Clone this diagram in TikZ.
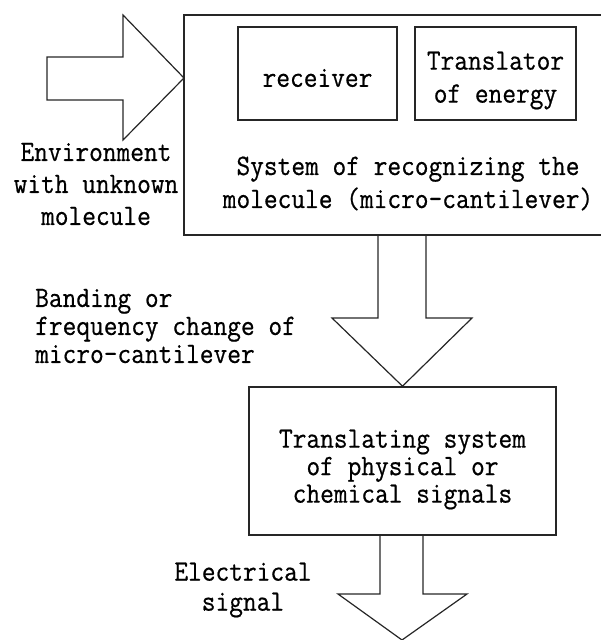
\documentclass[tikz,border=0pt]{standalone}
\usepackage{fontspec}
\setmonofont{Latin Modern Mono}[FakeBold=0.6,FakeStretch=0.9]
\usepackage{tikz}

\begin{document}
\begin{tikzpicture}
  [x=1pt,y=-1pt,
   every node/.style={font=\ttfamily\fontsize{29.6}{32}\selectfont,inner sep=0pt,align=center},
   box/.style={draw=black!85,line width=1.6pt,rectangle},
   blockarrow/.style={draw=black!85,line width=1.2pt,line join=miter}]
  \useasboundingbox (0,0) rectangle (601,640);
  \clip (0,0) rectangle (601,640);

  \node[box,minimum width=426,minimum height=220] (sys) at (397,125) {};
  \node[box,minimum width=159,minimum height=93] (recv) at (317.5,73.5) {};
  \node[box,minimum width=161,minimum height=93] (tren) at (495.5,73.5) {};
  \node[box,minimum width=307,minimum height=148] (trans) at (402.5,461) {};

  \node (recvtxt) at ([yshift=-4.5pt]recv.center) {receiver};
  \node[font=\ttfamily\fontsize{29.6}{33}\selectfont] (trentxt) at ([yshift=-7pt]tren.center) {Translator\\of energy};
  \node[font=\ttfamily\fontsize{29.6}{33}\selectfont] (systxt) at (408,183.5) {System of recognizing the\\molecule (micro-cantilever)};
  \node[font=\ttfamily\fontsize{29.6}{27.5}\selectfont] (transtxt) at ([yshift=-8.5pt]trans.center) {Translating system\\of physical or\\chemical signals};

  \node (env) at (96,184) {Environment\\with unknown\\molecule};
  \node[anchor=west,align=left,font=\ttfamily\fontsize{29.6}{28}\selectfont] (band) at (35,326) {Banding or\\frequency change of\\micro-cantilever};
  \node[font=\ttfamily\fontsize{29.6}{30}\selectfont] (elec) at (243,590) {Electrical\\signal};

  \coordinate (envtip) at (184,78);
  \coordinate (out) at (402,640);

  % block arrows
  \draw[blockarrow] (47,57) -- (123,57) -- (123,15) -- (envtip) -- (123,140) -- (123,100) -- (47,100) -- cycle;
  \draw[blockarrow] (378,235) -- (378,318) -- (332,318) -- (trans.north) -- (472,318) -- (426,318) -- (426,235);
  \draw[blockarrow] (380,535) -- (380,594) -- (338,594) -- (out) -- (467,594) -- (423,594) -- (423,535);
\end{tikzpicture}
\end{document}
